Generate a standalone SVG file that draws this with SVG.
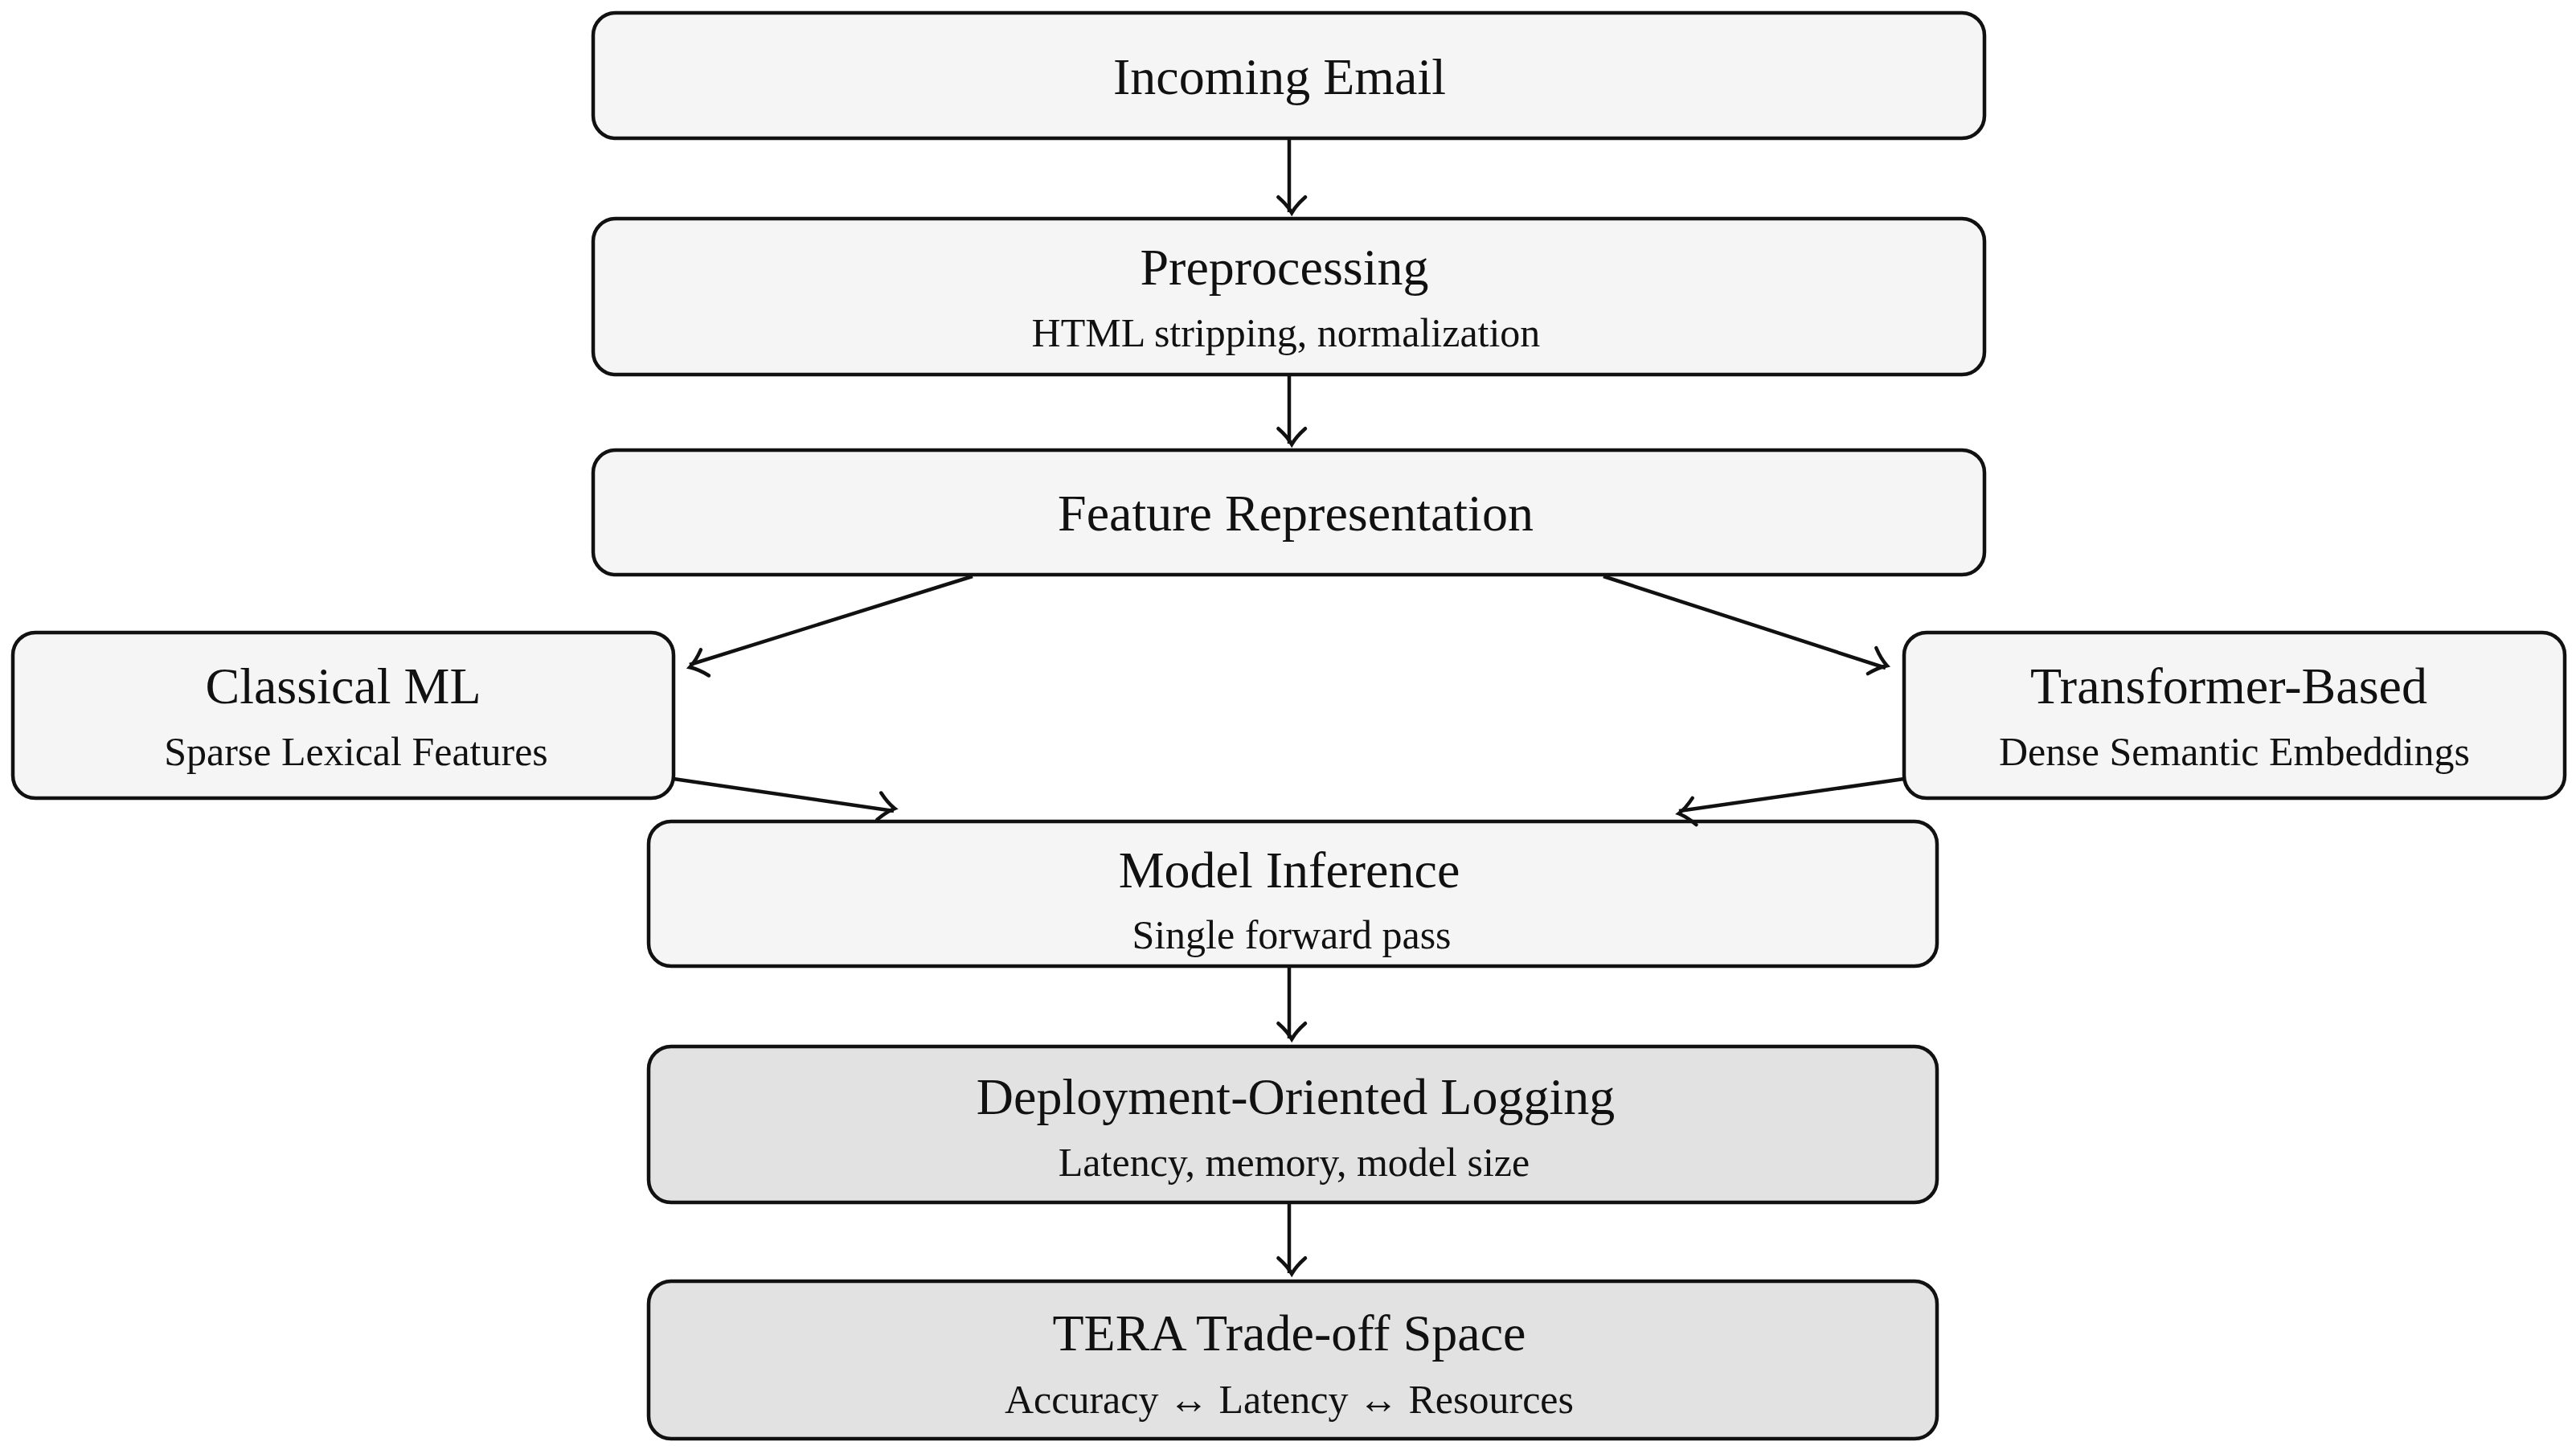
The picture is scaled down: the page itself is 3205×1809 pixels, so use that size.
<svg xmlns="http://www.w3.org/2000/svg" width="3205" height="1809" viewBox="0 0 3205 1809">
<style>
.b{fill:#f5f5f5;stroke:#111;stroke-width:4.5}
.g{fill:#e2e2e2;stroke:#111;stroke-width:4.5}
.t{font-family:"Liberation Serif",serif;font-size:64px;fill:#111;text-anchor:middle}
.s{font-family:"Liberation Serif",serif;font-size:50px;fill:#111;text-anchor:middle}
.c{stroke:#111;stroke-width:4.5;fill:none;marker-end:url(#a)}
</style>
<defs>
<marker id="a" markerWidth="12" markerHeight="12" refX="9" refY="6" orient="auto" markerUnits="userSpaceOnUse" overflow="visible">
<path d="M-4,-6 Q3,2 10,6 Q3,10 -4,18" transform="translate(0,0) scale(1.4) translate(-3,-4)" fill="none" stroke="#111" stroke-width="3.2" stroke-linecap="round"/>
</marker>
</defs>
<rect width="3205" height="1809" fill="#fff"/>
<g id="incoming"><rect class="b" x="738" y="16" width="1731" height="156" rx="28"/><text class="t" x="1592" y="117">Incoming Email</text></g>
<g id="preprocessing"><rect class="b" x="738" y="272" width="1731" height="194" rx="28"/><text class="t" x="1598" y="354">Preprocessing</text><text class="s" x="1600" y="431">HTML stripping, normalization</text></g>
<g id="feature"><rect class="b" x="738" y="560" width="1731" height="155" rx="28"/><text class="t" x="1612" y="660">Feature Representation</text></g>
<g id="classical"><rect class="b" x="16" y="787" width="822" height="206" rx="28"/><text class="t" x="427" y="875">Classical ML</text><text class="s" x="443" y="952">Sparse Lexical Features</text></g>
<g id="transformer"><rect class="b" x="2369" y="787" width="822" height="206" rx="28"/><text class="t" x="2773" y="875">Transformer-Based</text><text class="s" x="2780" y="952">Dense Semantic Embeddings</text></g>
<g id="inference"><rect class="b" x="807" y="1022" width="1603" height="180" rx="28"/><text class="t" x="1604" y="1104">Model Inference</text><text class="s" x="1607" y="1180">Single forward pass</text></g>
<g id="logging"><rect class="g" x="807" y="1302" width="1603" height="194" rx="28"/><text class="t" x="1612" y="1386">Deployment-Oriented Logging</text><text class="s" x="1610" y="1463">Latency, memory, model size</text></g>
<g id="tera"><rect class="g" x="807" y="1594" width="1603" height="196" rx="28"/><text class="t" x="1604" y="1680">TERA Trade-off Space</text><text class="s" x="1604" y="1758">Accuracy ↔ Latency ↔ Resources</text></g>
<g id="connectors">
<line class="c" x1="1604" y1="172" x2="1604" y2="264"/>
<line class="c" x1="1604" y1="466" x2="1604" y2="552"/>
<line class="c" x1="1210" y1="717" x2="858" y2="827"/>
<line class="c" x1="1995" y1="717" x2="2346" y2="831"/>
<line class="c" x1="838" y1="969" x2="1112" y2="1009"/>
<line class="c" x1="2369" y1="969" x2="2089" y2="1009"/>
<line class="c" x1="1604" y1="1202" x2="1604" y2="1292"/>
<line class="c" x1="1604" y1="1496" x2="1604" y2="1584"/>
</g>
</svg>
